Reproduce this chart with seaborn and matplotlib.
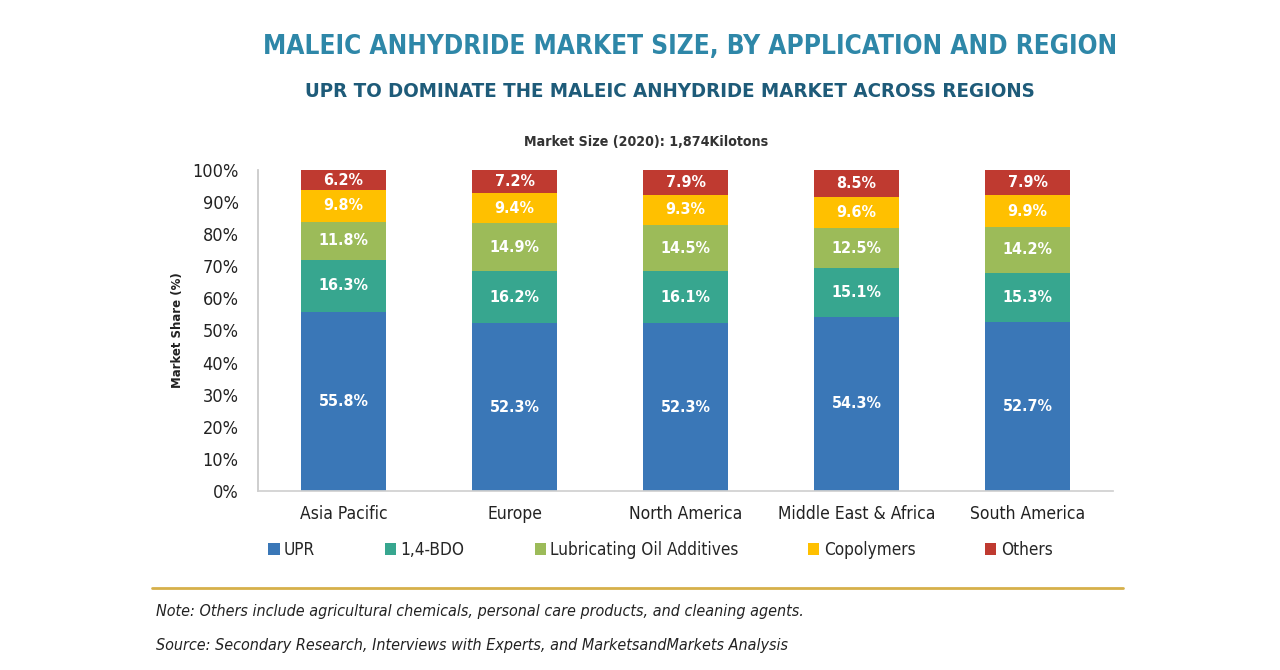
import pandas as pd
import matplotlib
matplotlib.use('Agg')
import matplotlib.pyplot as plt
from matplotlib.patches import Patch
from matplotlib.lines import Line2D
import seaborn as sns

# chart data
regions = ['Asia Pacific', 'Europe', 'North America', 'Middle East & Africa', 'South America']
applications = ['UPR', '1,4-BDO', 'Lubricating Oil Additives', 'Copolymers', 'Others']
upr = [55.8, 52.3, 52.3, 54.3, 52.7]
bdo = [16.3, 16.2, 16.1, 15.1, 15.3]
lube = [11.8, 14.9, 14.5, 12.5, 14.2]
copolymers = [9.8, 9.4, 9.3, 9.6, 9.9]
others = [6.2, 7.2, 7.9, 8.5, 7.9]
colors = ['#3a77b7', '#37a68f', '#9cbb59', '#ffc000', '#bf3a30']

sns.set_theme(style='white')
plt.rcParams['font.family'] = ['DejaVu Sans']
plt.rcParams['font.stretch'] = 'condensed'

df = pd.DataFrame({'UPR': upr, '1,4-BDO': bdo, 'Lubricating Oil Additives': lube,
                   'Copolymers': copolymers, 'Others': others}, index=regions)
cum = df.cumsum(axis=1)

fig = plt.figure(figsize=(12.8, 6.7), dpi=100)
ax = fig.add_axes([0.2016, 0.2672, 0.668, 0.4791])

# draw stacked bars: tallest cumulative layer first
for app, col in zip(applications[::-1], colors[::-1]):
    layer = pd.DataFrame({'region': regions, 'value': cum[app].values})
    sns.barplot(data=layer, x='region', y='value', color=col, width=0.5,
                saturation=1, ax=ax, order=regions, linewidth=0)

# segment labels
for i, reg in enumerate(regions):
    for app in applications:
        v = df.loc[reg, app]
        ax.text(i, cum.loc[reg, app] - v / 2, f'{v:.1f}%', ha='center', va='center',
                color='white', fontsize=11.5, fontweight='bold')

ax.set_ylim(0, 100)
ax.set_yticks(range(0, 101, 10))
ax.set_yticklabels([f'{t}%' for t in range(0, 101, 10)], fontsize=13, color='#222222')
ax.tick_params(axis='x', labelsize=12.5, colors='#222222', length=0, pad=10)
ax.tick_params(axis='y', length=0, pad=14)
ax.set_xlabel('')
ax.set_ylabel('Market Share (%)', fontsize=9.4, fontweight='bold', color='#222222', labelpad=6)
for s in ['top', 'right']:
    ax.spines[s].set_visible(False)
ax.spines['left'].set_color('#c8c8c8')
ax.spines['bottom'].set_color('#d0d0d0')

# legend
handles = [Patch(facecolor=c, edgecolor='none') for c in colors]
fig.legend(handles, applications, loc='center', bbox_to_anchor=(0.516, 0.179), ncol=5,
           frameon=False, fontsize=12.3, handlelength=0.65, handleheight=0.65,
           handletextpad=0.25, columnspacing=4.1)

# titles
fig.text(0.539, 0.930, 'MALEIC ANHYDRIDE MARKET SIZE, BY APPLICATION AND REGION',
         ha='center', va='center', fontsize=18.8, fontweight='bold', color='#2e87a8')
fig.text(0.523, 0.864, 'UPR TO DOMINATE THE MALEIC ANHYDRIDE MARKET ACROSS REGIONS',
         ha='center', va='center', fontsize=14.7, fontweight='bold', color='#1e5b79')
fig.text(0.505, 0.788, 'Market Size (2020): 1,874Kilotons', ha='center', va='center',
         fontsize=10.2, fontweight='bold', color='#333333')

# footer
fig.add_artist(Line2D([0.119, 0.877], [0.122, 0.122], color='#d6b04a', lw=2,
                      transform=fig.transFigure))
fig.text(0.122, 0.087, 'Note: Others include agricultural chemicals, personal care products, and cleaning agents.',
         ha='left', va='center', fontsize=11.5, style='italic', color='#222222')
fig.text(0.122, 0.037, 'Source: Secondary Research, Interviews with Experts, and MarketsandMarkets Analysis',
         ha='left', va='center', fontsize=11.5, style='italic', color='#222222')

fig.savefig('out.png', dpi=100)
